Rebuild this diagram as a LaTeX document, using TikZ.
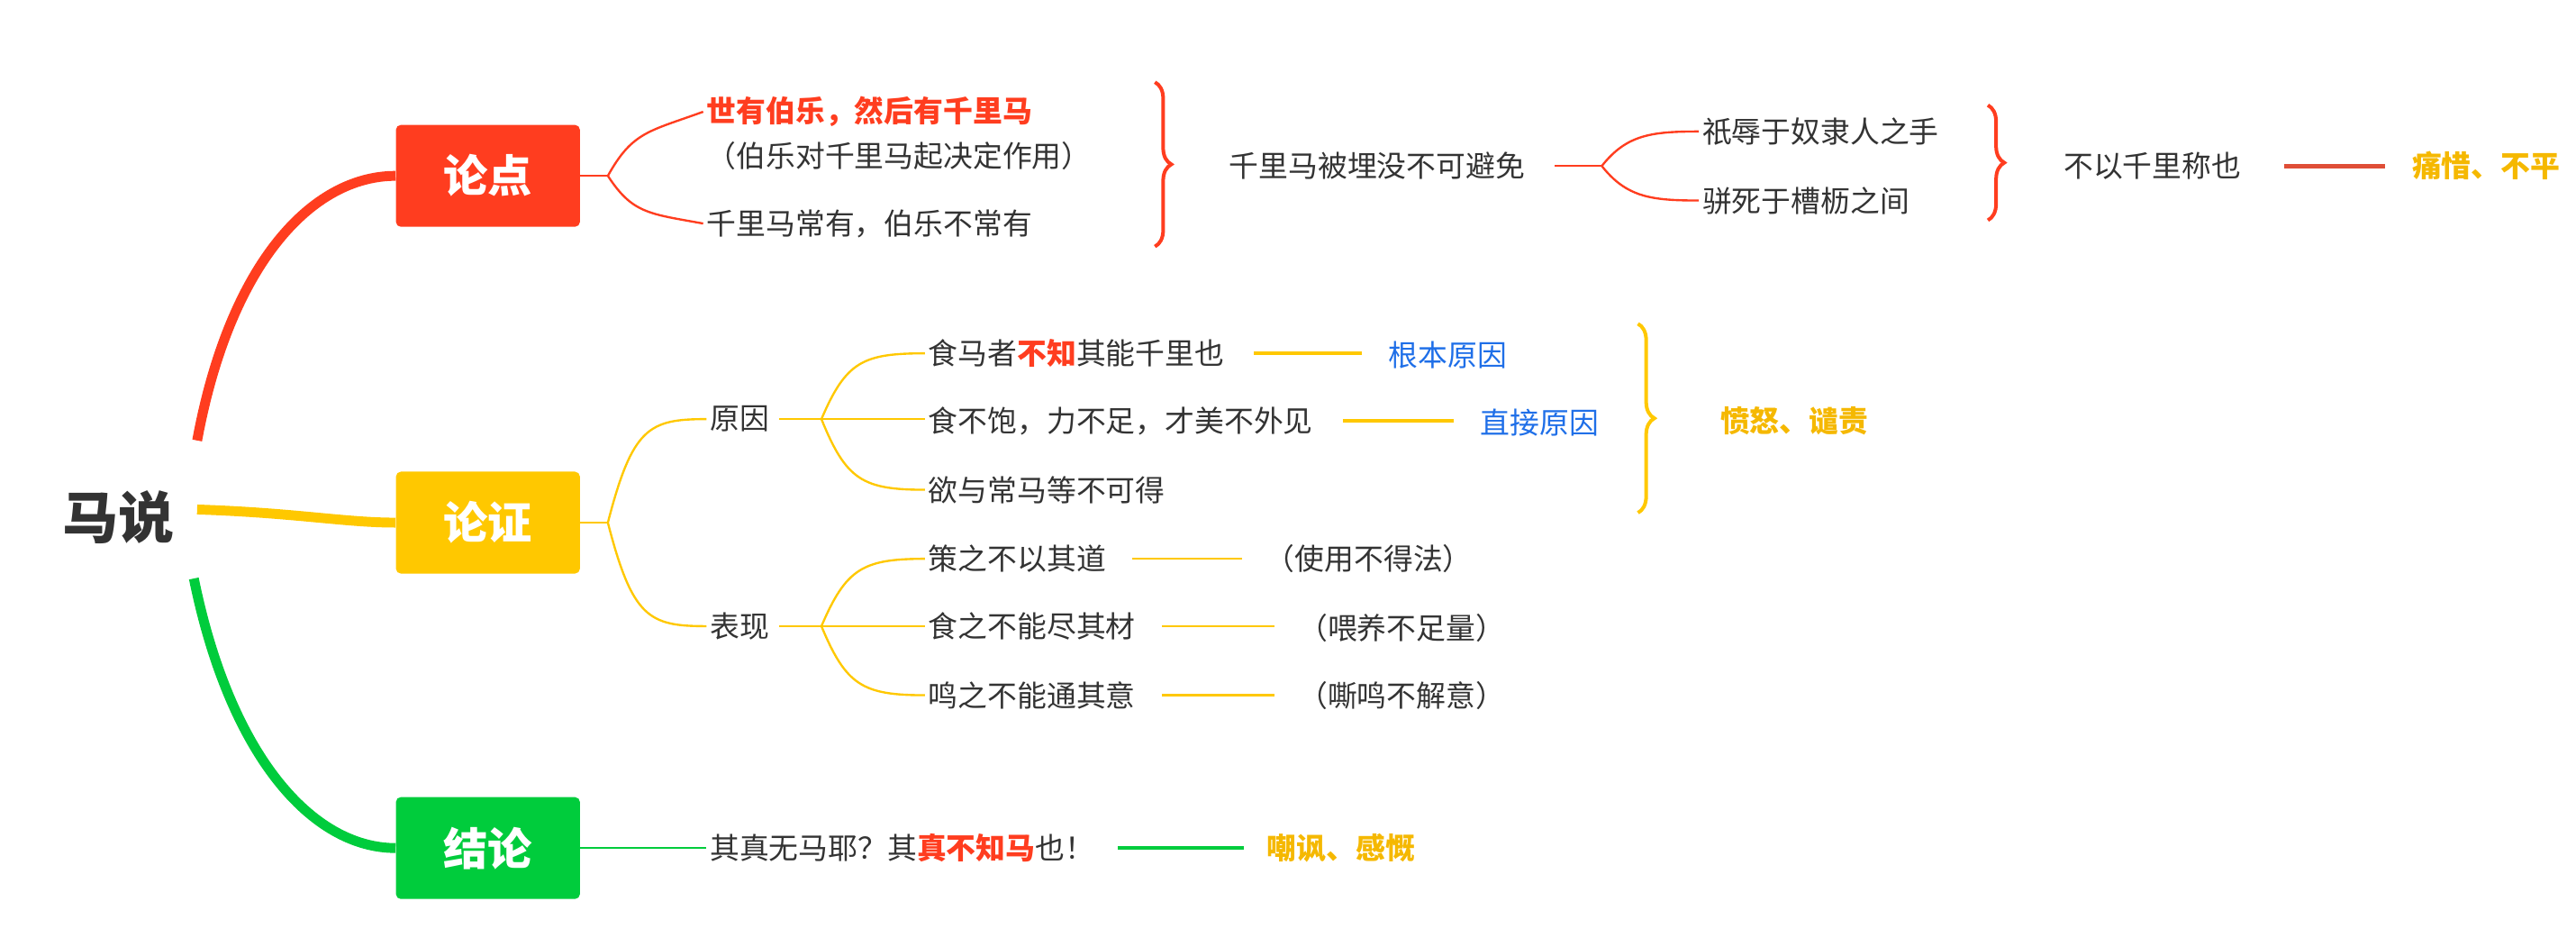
\documentclass[tikz,border=0pt]{standalone}
\usepackage{fontspec}
\setmainfont{Noto Sans CJK SC}
\usetikzlibrary{positioning,calc,decorations.pathreplacing}
\definecolor{mred}{HTML}{FF3D1F}
\definecolor{myel}{HTML}{FFC800}
\definecolor{mgreen}{HTML}{00CC3C}
\definecolor{mblue}{HTML}{1F6FE8}
\definecolor{mochre}{HTML}{F5B800}
\definecolor{mdark}{HTML}{333333}
\begin{document}
\begin{tikzpicture}[x=1pt, y=-1pt,
    txt/.style={anchor=west, inner sep=2pt, font=\fontsize{18}{22}\selectfont, text=mdark},
    topic/.style={draw=none, rounded corners=3pt, fill=#1, minimum width=112pt, minimum height=62pt,
        text=white, font=\fontsize{27}{30}\selectfont\bfseries},
    hot/.style={txt, text=mochre, font=\fontsize{18}{22}\selectfont\bfseries},
    why/.style={txt, text=mblue},
    link/.style={line width=1.3pt, #1},
    trunk/.style={line width=6pt, #1},
    bracer/.style={decorate, decoration={brace, amplitude=10pt}, line width=2.2pt, #1},
]
\useasboundingbox (0,0) rectangle (1568,576);

% --- root and topics ---
\node[font=\fontsize{34}{38}\selectfont\bfseries, text=mdark] (root) at (72,315) {马说};
\node[topic=mred] (ld) at (297,107) {论点};
\node[topic=myel] (lz) at (297,318) {论证};
\node[topic=mgreen] (jl) at (297,516) {结论};

\draw[trunk=mred] (120,268) .. controls (140,160) and (190,107) .. (ld.west);
\draw[trunk=myel] (120,310) .. controls (180,312) and (210,318) .. (lz.west);
\draw[trunk=mgreen] (118,352) .. controls (140,460) and (190,516) .. (jl.west);

% --- 论点 ---
\node[txt, text=mred, font=\fontsize{18}{22}\selectfont\bfseries] (p1) at (428,68) {世有伯乐，然后有千里马};
\node[txt] (p1b) at (428,95) {（伯乐对千里马起决定作用）};
\node[txt] (p2) at (428,136) {千里马常有，伯乐不常有};
\coordinate (ldf) at (370,107);
\draw[link=mred] (ld.east) -- (ldf);
\draw[link=mred] (ldf) .. controls (385,80) and (395,80) .. (p1.west);
\draw[link=mred] (ldf) .. controls (385,130) and (395,130) .. (p2.west);
\draw[bracer=mred] (703,50) -- (703,150);

\node[txt] (mo) at (746,101) {千里马被埋没不可避免};
\node[txt] (m1) at (1034,80) {祇辱于奴隶人之手};
\node[txt] (m2) at (1034,122) {骈死于槽枥之间};
\coordinate (mof) at (975,101);
\draw[link=mred] (mo.east) ++(16,0) -- (mof);
\draw[link=mred] (mof) .. controls (990,82) and (1005,80) .. (m1.west);
\draw[link=mred] (mof) .. controls (990,120) and (1005,122) .. (m2.west);
\draw[bracer=mred] (1210,64) -- (1210,134);
\node[txt] (bcy) at (1254,101) {不以千里称也};
\node[hot] (tx) at (1466,101) {痛惜、不平};
\draw[mred!75!gray, line width=2.5pt] ([xshift=24pt]bcy.east) -- ([xshift=-14pt]tx.west);

% --- 论证 ---
\node[txt] (yy) at (430,255) {原因};
\node[txt] (bx) at (430,381) {表现};
\coordinate (lzf) at (370,318);
\draw[link=myel] (lz.east) -- (lzf);
\draw[link=myel] (lzf) .. controls (385,260) and (395,255) .. (yy.west);
\draw[link=myel] (lzf) .. controls (385,376) and (395,381) .. (bx.west);

\node[txt] (y1) at (563,215) {食马者\textcolor{mred}{\bfseries 不知}其能千里也};
\node[txt] (y2) at (563,256) {食不饱，力不足，才美不外见};
\node[txt] (y3) at (563,298) {欲与常马等不可得};
\coordinate (yyf) at (500,255);
\draw[link=myel] (yy.east) ++(4,0) -- (yyf);
\draw[link=myel] (yyf) .. controls (515,220) and (525,215) .. (y1.west);
\draw[link=myel] (yyf) -- (y2.west |- yyf);
\draw[link=myel] (yyf) .. controls (515,292) and (525,298) .. (y3.west);
\node[why] (w1) at (843,216) {根本原因};
\node[why] (w2) at (899,257) {直接原因};
\draw[link=myel, line width=2pt] ([xshift=16pt]y1.east) -- ([xshift=-14pt]w1.west |- y1.east);
\draw[link=myel, line width=2pt] ([xshift=16pt]y2.east) -- ([xshift=-14pt]w2.west |- y2.east);
\draw[bracer=myel] (997,197) -- (997,312);
\node[hot] (fn) at (1045,256) {愤怒、谴责};

\node[txt] (b1) at (563,340) {策之不以其道};
\node[txt] (b2) at (563,381) {食之不能尽其材};
\node[txt] (b3) at (563,423) {鸣之不能通其意};
\coordinate (bxf) at (500,381);
\draw[link=myel] (bx.east) ++(4,0) -- (bxf);
\draw[link=myel] (bxf) .. controls (515,346) and (525,340) .. (b1.west);
\draw[link=myel] (bxf) -- (b2.west |- bxf);
\draw[link=myel] (bxf) .. controls (515,417) and (525,423) .. (b3.west);
\node[txt] (c1) at (768,340) {（使用不得法）};
\node[txt] (c2) at (788,382) {（喂养不足量）};
\node[txt] (c3) at (788,423) {（嘶鸣不解意）};
\draw[link=myel] ([xshift=14pt]b1.east) -- ([xshift=-12pt]c1.west |- b1.east);
\draw[link=myel] ([xshift=14pt]b2.east) -- ([xshift=-12pt]c2.west |- b2.east);
\draw[link=myel] ([xshift=14pt]b3.east) -- ([xshift=-12pt]c3.west |- b3.east);

% --- 结论 ---
\node[txt] (jt) at (430,516) {其真无马耶？其\textcolor{mred}{\bfseries 真不知马}也！};
\node[hot] (cf) at (769,516) {嘲讽、感慨};
\draw[link=mgreen] (jl.east) -- (jt.west);
\draw[link=mgreen, line width=2pt] ([xshift=12pt]jt.east) -- ([xshift=-12pt]cf.west |- jt.east);
\end{tikzpicture}
\end{document}
